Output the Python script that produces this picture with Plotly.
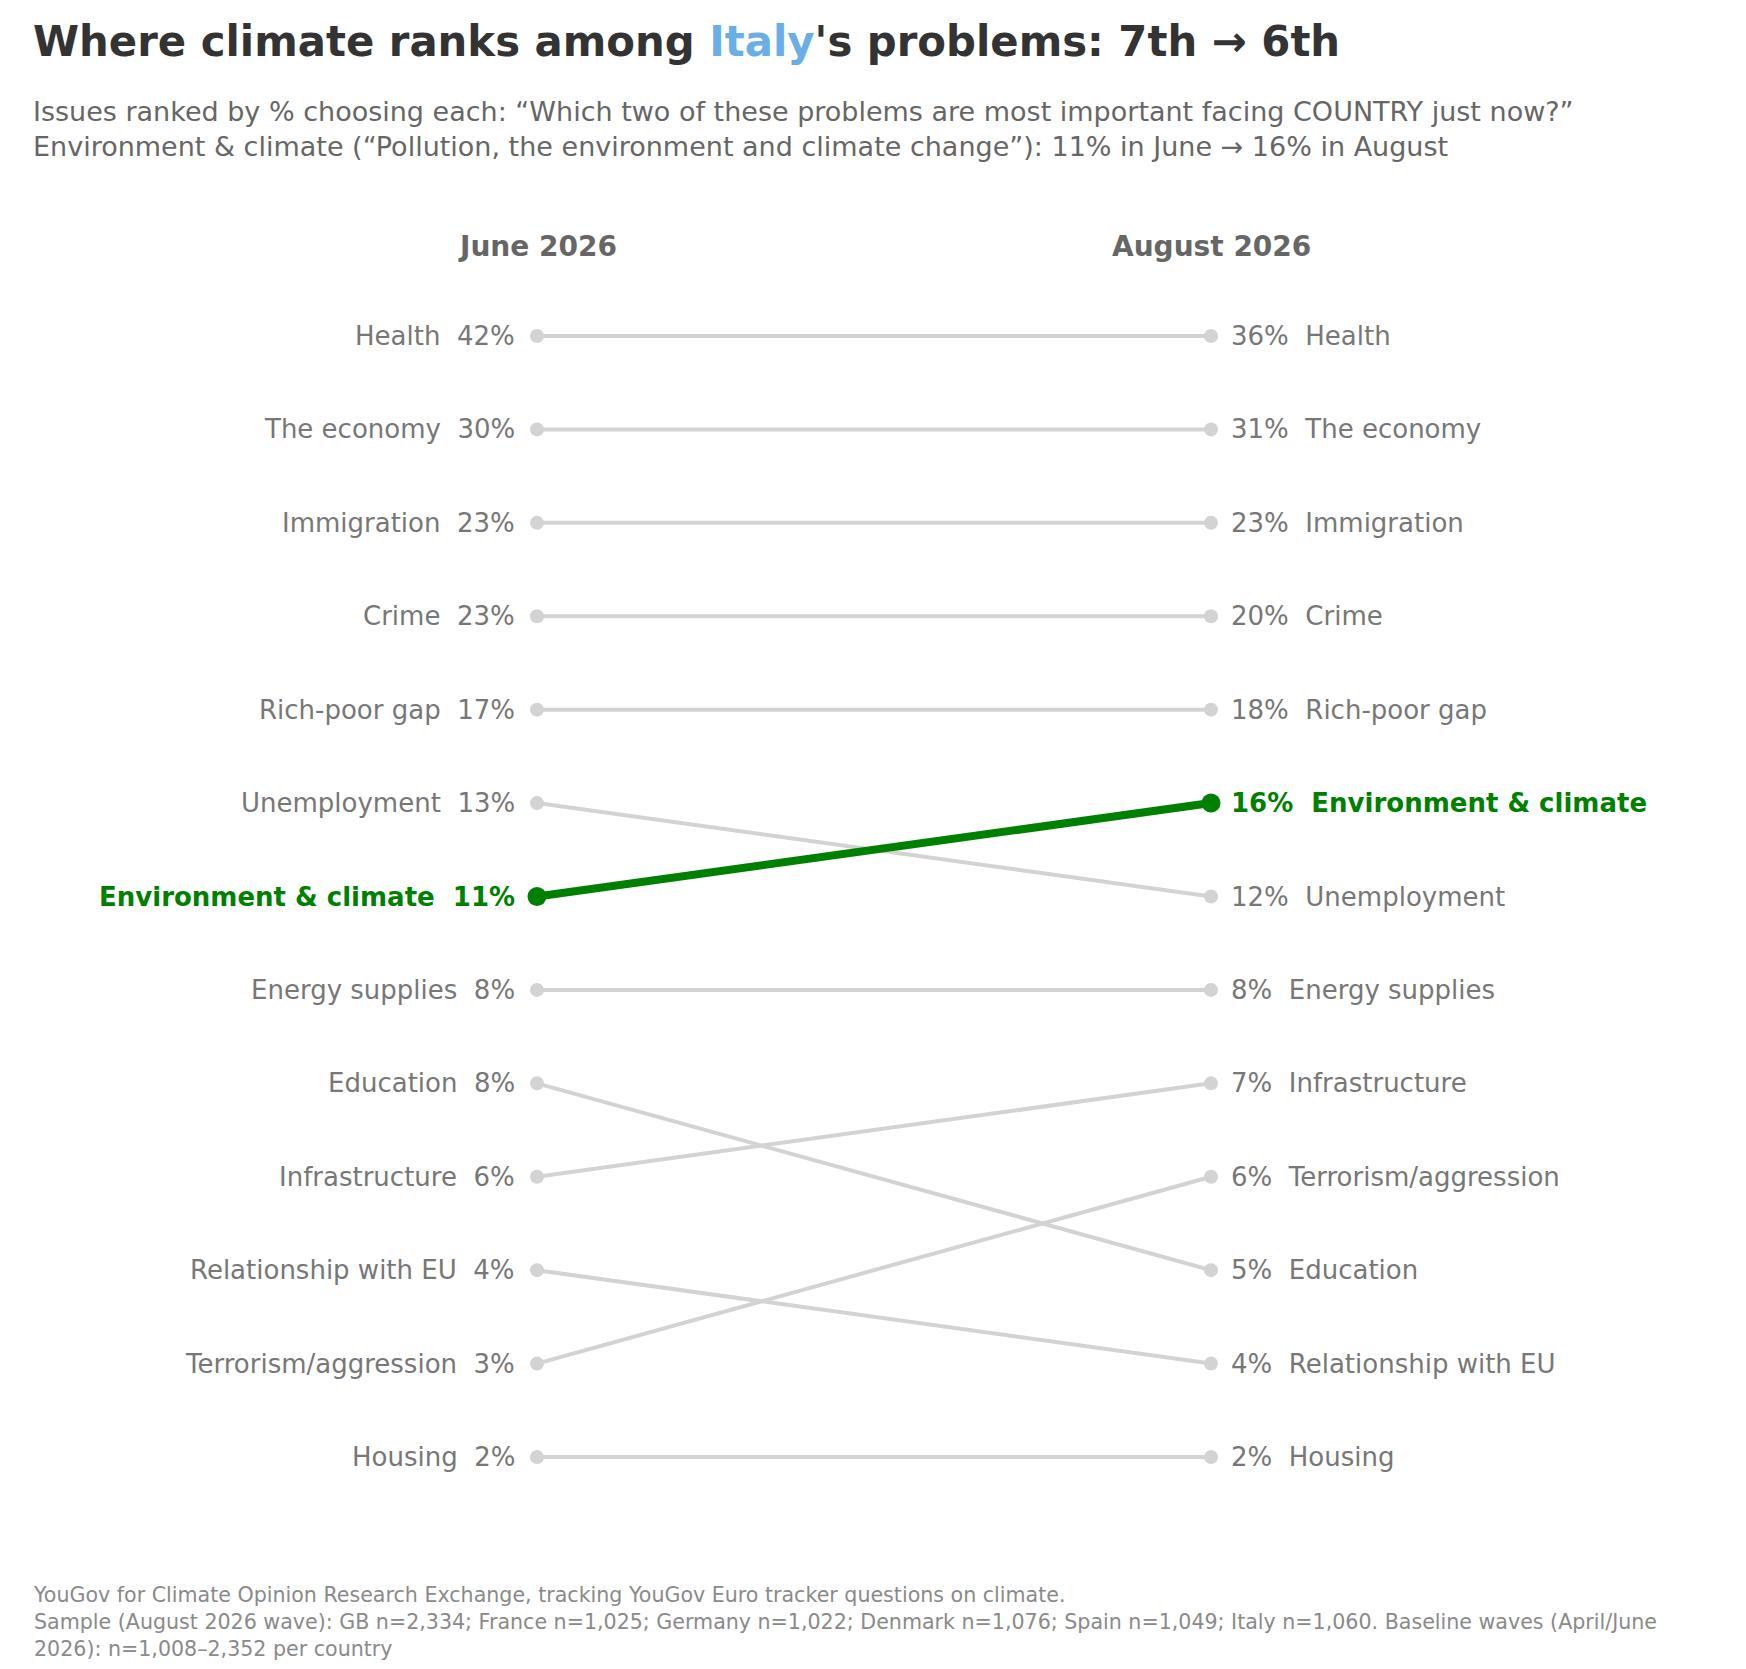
import plotly.graph_objects as go

# ---- Data ----
issues = ["Health", "The economy", "Immigration", "Crime", "Rich-poor gap",
          "Unemployment", "Environment & climate", "Energy supplies", "Education",
          "Infrastructure", "Relationship with EU", "Terrorism/aggression", "Housing"]
june_pct = [42, 30, 23, 23, 17, 13, 11, 8, 8, 6, 4, 3, 2]
aug_pct = [36, 31, 23, 20, 18, 12, 16, 8, 5, 7, 4, 6, 2]
june_rank = [1, 2, 3, 4, 5, 6, 7, 8, 9, 10, 11, 12, 13]
aug_rank = [1, 2, 3, 4, 5, 7, 6, 8, 11, 9, 12, 10, 13]
periods = ["June 2026", "August 2026"]
highlight = "Environment & climate"

W, H = 1746, 1669
FONT = "DejaVu Sans"
GRAY_LINE = "#d3d3d3"
GRAY_TEXT = "#777777"
GREEN = "#008000"

fig = go.Figure()

order = [i for i in range(len(issues)) if issues[i] != highlight] + \
        [i for i in range(len(issues)) if issues[i] == highlight]

for i in order:
    hl = issues[i] == highlight
    fig.add_trace(go.Scatter(
        x=[0, 1], y=[june_rank[i], aug_rank[i]],
        mode="lines+markers",
        line=dict(color=GREEN if hl else GRAY_LINE, width=8 if hl else 4),
        marker=dict(color=GREEN if hl else GRAY_LINE, size=19 if hl else 14),
        hoverinfo="skip", showlegend=False,
    ))

LABEL_SIZE = 26
annotations = []
for i, name in enumerate(issues):
    hl = name == highlight
    col = GREEN if hl else GRAY_TEXT
    wt = "bold" if hl else "normal"
    annotations.append(dict(
        x=0, y=june_rank[i], xref="x", yref="y",
        text=f"{name}  {june_pct[i]}%", showarrow=False,
        xanchor="right", yanchor="middle", xshift=-20,
        font=dict(family=FONT, size=LABEL_SIZE, color=col, weight=wt)))
    annotations.append(dict(
        x=1, y=aug_rank[i], xref="x", yref="y",
        text=f"{aug_pct[i]}%  {name}", showarrow=False,
        xanchor="left", yanchor="middle", xshift=18,
        font=dict(family=FONT, size=LABEL_SIZE, color=col, weight=wt)))

# column headers
for k, p in enumerate(periods):
    annotations.append(dict(
        x=k, y=1 - 246 / H, xref="x", yref="paper",
        text=p, showarrow=False, xanchor="center", yanchor="middle",
        font=dict(family=FONT, size=28, color="#666666", weight="bold")))

LEFT = 31 / W
annotations.append(dict(
    x=LEFT, y=1 - 42 / H, xref="paper", yref="paper",
    text="Where climate ranks among <span style='color:#6aaee6'>Italy</span>'s problems: 7th \u2192 6th",
    showarrow=False, xanchor="left", yanchor="middle",
    font=dict(family=FONT, size=41.8, color="#333333", weight="bold")))

annotations.append(dict(
    x=LEFT, y=1 - 129 / H, xref="paper", yref="paper",
    text="Issues ranked by % choosing each: \u201cWhich two of these problems are most important facing COUNTRY just now?\u201d<br>"
         "Environment & climate (\u201cPollution, the environment and climate change\u201d): 11% in June \u2192 16% in August",
    showarrow=False, xanchor="left", yanchor="middle", align="left",
    font=dict(family=FONT, size=27, color="#666666")))

annotations.append(dict(
    x=LEFT, y=1 - 1622 / H, xref="paper", yref="paper",
    text="YouGov for Climate Opinion Research Exchange, tracking YouGov Euro tracker questions on climate.<br>"
         "Sample (August 2026 wave): GB n=2,334; France n=1,025; Germany n=1,022; Denmark n=1,076; Spain n=1,049; Italy n=1,060. Baseline waves (April/June<br>"
         "2026): n=1,008\u20132,352 per country",
    showarrow=False, xanchor="left", yanchor="middle", align="left",
    font=dict(family=FONT, size=20.6, color="#8a8a8a")))

# axis ranges so that x=0 -> 537px, x=1 -> 1211px, rank1 -> 336px, rank13 -> 1457px
xs = 1211 - 537
x0 = -537 / xs
x1 = x0 + W / xs
ys = (1457 - 336) / 12
ytop = 1 - 336 / ys
ybot = 1 + (H - 336) / ys

fig.update_layout(
    width=W, height=H,
    margin=dict(l=0, r=0, t=0, b=0),
    paper_bgcolor="white", plot_bgcolor="white",
    xaxis=dict(range=[x0, x1], visible=False, fixedrange=True),
    yaxis=dict(range=[ybot, ytop], visible=False, fixedrange=True),
    annotations=annotations,
    font=dict(family=FONT),
)

fig.write_html("out.html", config={"displayModeBar": False},
               post_script="document.body.style.margin='0px';")
